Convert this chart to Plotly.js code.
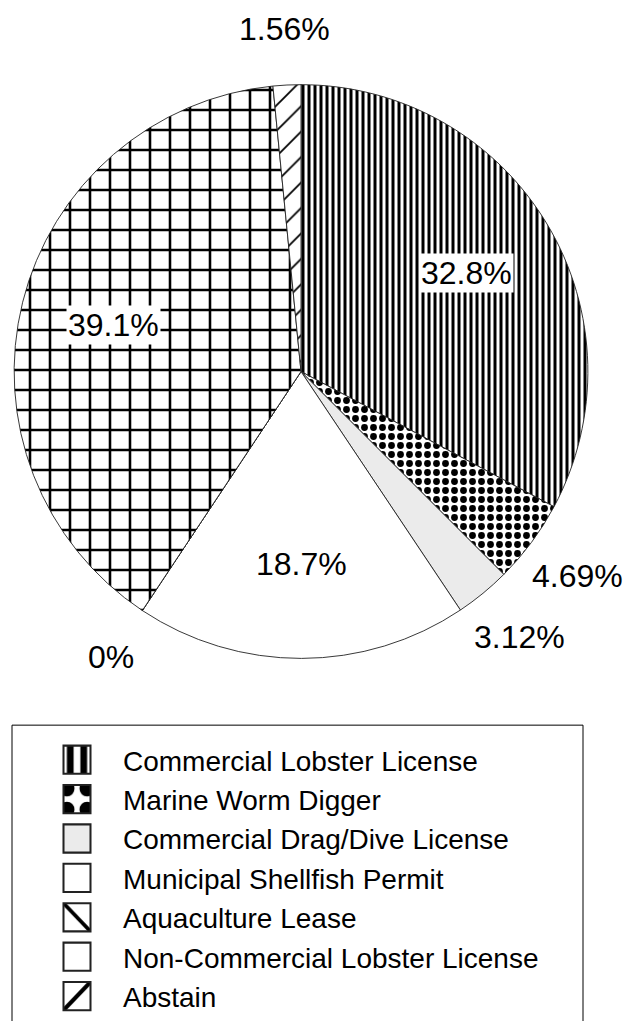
<!DOCTYPE html>
<html><head><meta charset="utf-8">
<script src="https://cdn.plot.ly/plotly-3.0.1.min.js"></script>
<style>
html,body{margin:0;padding:0;background:#fff;}
#chart{width:626px;height:1021px;}
.legendpoints path.legendpie{transform:translate(49px,0px) scale(2.25,2.35);}
</style></head><body><div id="chart"></div>
<script>
const categories = ['Commercial Lobster License','Marine Worm Digger','Commercial Drag/Dive License','Municipal Shellfish Permit','Aquaculture Lease','Non-Commercial Lobster License','Abstain'];
const values = [32.8, 4.69, 3.12, 18.7, 0, 39.1, 1.56];
const valueLabels = ['32.8%','4.69%','3.12%','18.7%','0%','39.1%','1.56%'];
const labelInside = [true, false, false, true, false, true, false];

const W = 626, H = 1021;
const domX = [13/W, 589/W];
const domY = [1 - 661/H, 1 - 85/H];
const cx = (domX[0] + domX[1]) / 2 * W;
const cy = (1 - (domY[0] + domY[1]) / 2) * H;
const R = Math.min((domX[1]-domX[0])*W, (domY[1]-domY[0])*H) / 2;

const total = values.reduce((a,b)=>a+b,0);
const annotations = [];
let cum = 0;
values.forEach((v,i)=>{
  const th = 2*Math.PI*(cum + v/2)/total;
  cum += v;
  const f = labelInside[i] ? 0.67 : 1.195;
  const px = cx + R*f*Math.sin(th);
  const py = cy - R*f*Math.cos(th);
  annotations.push({
    x: px/W, y: 1 - py/H, xref:'paper', yref:'paper',
    text: valueLabels[i], showarrow:false, xanchor:'center', yanchor:'middle',
    font:{size:32, color:'#000', family:'Liberation Sans, Arial, sans-serif'},
    bgcolor: labelInside[i] ? '#ffffff' : 'rgba(0,0,0,0)', borderpad:1
  });
});

const trace = {
  type:'pie',
  labels: categories,
  values: values,
  sort:false,
  direction:'clockwise',
  rotation:0,
  textinfo:'none',
  hoverinfo:'skip',
  domain:{x:domX, y:domY},
  marker:{
    colors:['#ffffff','#ffffff','#ebebeb','#ffffff','#ffffff','#ffffff','#ffffff'],
    line:{color:'#222222', width:0.9},
    pattern:{
      shape:['|','.','','','\\','+','/'],
      fgcolor:'#000000',
      bgcolor:['#ffffff','#ffffff','#ebebeb','#ffffff','#ffffff','#ffffff','#ffffff'],
      size:[6,9,8,8,16,20,18],
      solidity:[0.5,0.45,0.2,0.2,0.1,0.24,0.1],
      fillmode:'replace'
    }
  }
};

const layout = {
  width:W, height:H,
  margin:{l:0,r:0,t:0,b:0},
  paper_bgcolor:'#ffffff',
  font:{family:'Liberation Sans, Arial, sans-serif', color:'#000'},
  showlegend:true,
  legend:{
    x:28/W, xanchor:'left', y:1-738/H, yanchor:'top',
    font:{size:28, color:'#000'},
    itemwidth:85, bgcolor:'rgba(0,0,0,0)', borderwidth:0,
    traceorder:'normal'
  },
  annotations: annotations,
  shapes:[{type:'rect', xref:'paper', yref:'paper', x0:12/W, x1:583/W, y0:-0.05, y1:1-728/H,
           line:{color:'#000', width:1}, fillcolor:'rgba(0,0,0,0)'}]
};

Plotly.newPlot('chart',[trace],layout,{staticPlot:true, displayModeBar:false});
</script></body></html>
